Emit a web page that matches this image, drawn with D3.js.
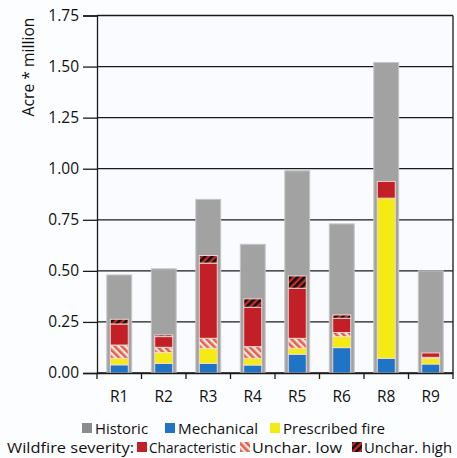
<!DOCTYPE html>
<html><head><meta charset="utf-8">
<script src="https://cdn.jsdelivr.net/npm/d3@7"></script>
<style>
body{margin:0;background:#fcfdff;}
text{font-family:"Open Sans",Lato,sans-serif;fill:#111;}
</style></head>
<body>
<svg id="chart" width="457" height="458"></svg>
<script>
const categories = ["R1","R2","R3","R4","R5","R6","R8","R9"];
const historic   = [0.48,0.51,0.85,0.63,0.99,0.73,1.52,0.50];
const mechanical = [0.040,0.047,0.047,0.039,0.092,0.124,0.072,0.044];
const prescribed = [0.032,0.053,0.074,0.033,0.029,0.054,0.784,0.028];
const uncharLow  = [0.065,0.026,0.049,0.057,0.049,0.020,0.000,0.005];
const characteristic = [0.103,0.052,0.368,0.193,0.245,0.070,0.082,0.021];
const uncharHigh = [0.023,0.008,0.037,0.041,0.060,0.016,0.000,0.000];
const yTicks = [0,0.25,0.5,0.75,1.0,1.25,1.5,1.75];
const yLabel = "Acre * million";

const svg = d3.select("#chart");
const L=97,R=453,T=15.5,B=373;
const FONT = '"Open Sans", Lato, sans-serif';
const x = d3.scaleBand().domain(categories).range([L,R]).paddingInner(0.44).paddingOuter(0.22);
const y = d3.scaleLinear().domain([0,1.75]).range([B,T]);

const defs = svg.append("defs");
const pLow = defs.append("pattern").attr("id","hLow").attr("patternUnits","userSpaceOnUse")
  .attr("width",5).attr("height",5).attr("patternTransform","rotate(-45)");
pLow.append("rect").attr("width",5).attr("height",5).attr("fill","#fbe6df");
pLow.append("rect").attr("width",2.6).attr("height",5).attr("fill","#e2604a");
const pHigh = defs.append("pattern").attr("id","hHigh").attr("patternUnits","userSpaceOnUse")
  .attr("width",5).attr("height",5).attr("patternTransform","rotate(45)");
pHigh.append("rect").attr("width",5).attr("height",5).attr("fill","#c42a26");
pHigh.append("rect").attr("width",2.6).attr("height",5).attr("fill","#111");

// plot bg
svg.append("rect").attr("x",L).attr("y",T).attr("width",R-L).attr("height",B-T).attr("fill","#fafbfe");

// gridlines
svg.append("g").selectAll("line").data(yTicks).join("line")
  .attr("x1",L).attr("x2",R).attr("y1",d=>y(d)).attr("y2",d=>y(d))
  .attr("stroke","#1a1a1a").attr("stroke-width",1.3);
// right border
svg.append("line").attr("x1",R).attr("x2",R).attr("y1",T).attr("y2",B).attr("stroke","#1a1a1a").attr("stroke-width",1.3);

// historic bars
svg.append("g").selectAll("rect").data(categories).join("rect")
  .attr("x",d=>x(d)).attr("width",x.bandwidth())
  .attr("y",(d,i)=>y(historic[i])).attr("height",(d,i)=>B-y(historic[i]))
  .attr("fill","#a2a2a2").attr("stroke","#c4c6c8").attr("stroke-width",1);

// stacked
const series = [
  {vals:mechanical, fill:"#1f74c6"},
  {vals:prescribed, fill:"#f3eb12"},
  {vals:uncharLow, fill:"url(#hLow)"},
  {vals:characteristic, fill:"#c21f26"},
  {vals:uncharHigh, fill:"url(#hHigh)"}
];
const cw = x.bandwidth()*0.72;
const gS = svg.append("g");
categories.forEach((c,i)=>{
  let base=0;
  series.forEach(s=>{
    const v=s.vals[i];
    if(v>0){
      gS.append("rect").attr("x",x(c)+(x.bandwidth()-cw)/2).attr("width",cw)
        .attr("y",y(base+v)).attr("height",y(base)-y(base+v))
        .attr("fill",s.fill).attr("stroke","#f6ddd6").attr("stroke-width",0.9);
    }
    base+=v;
  });
});

// y axis
const ya = svg.append("g").attr("transform",`translate(${L},0)`)
  .call(d3.axisLeft(y).tickValues(yTicks).tickFormat(d3.format(".2f")).tickSize(14).tickPadding(4));
ya.select(".domain").attr("stroke","#1a1a1a").attr("stroke-width",1.3);
ya.selectAll(".tick line").attr("stroke","#1a1a1a").attr("stroke-width",1.3);
ya.selectAll("text").attr("font-size",15.5).attr("fill","#111").attr("font-family",FONT);

// x axis
const xa = svg.append("g").attr("transform",`translate(0,${B})`)
  .call(d3.axisBottom(x).tickSize(0).tickPadding(18));
xa.select(".domain").attr("stroke","#1a1a1a").attr("stroke-width",1.3);
xa.selectAll("text").attr("font-size",15.5).attr("fill","#111").attr("font-family",FONT);
const step = x.step();
svg.append("g").selectAll("line").data(d3.range(categories.length+1)).join("line")
  .attr("x1",d=>L+d*step).attr("x2",d=>L+d*step).attr("y1",B).attr("y2",B+6)
  .attr("stroke","#1a1a1a").attr("stroke-width",1.3);

// y label
svg.append("text").attr("transform","translate(34,67) rotate(-90)")
  .attr("text-anchor","middle").attr("font-size",15.5)
  .attr("textLength",99).attr("lengthAdjust","spacingAndGlyphs").text(yLabel);

// legend
const leg = svg.append("g").attr("font-size",14.5);
const row1=[{x:82,w:53,fill:"#8c8c8c",t:"Historic"},{x:165,w:80,fill:"#1f74c6",t:"Mechanical"},{x:270,w:102,fill:"#f3eb12",t:"Prescribed fire"}];
row1.forEach(d=>{
  leg.append("rect").attr("x",d.x).attr("y",423).attr("width",10).attr("height",10).attr("fill",d.fill);
  leg.append("text").attr("x",d.x+13).attr("y",433.5).attr("textLength",d.w)
    .attr("lengthAdjust","spacingAndGlyphs").text(d.t);
});
leg.append("text").attr("x",7).attr("y",453).attr("textLength",127)
  .attr("lengthAdjust","spacingAndGlyphs").text("Wildfire severity:");
const row2=[{x:137,w:87,fill:"#c21f26",t:"Characteristic"},{x:240,w:90,fill:"url(#hLow)",t:"Unchar. low"},{x:352,w:88,fill:"url(#hHigh)",t:"Unchar. high"}];
row2.forEach(d=>{
  leg.append("rect").attr("x",d.x).attr("y",442).attr("width",10).attr("height",10).attr("fill",d.fill);
  leg.append("text").attr("x",d.x+12).attr("y",453).attr("textLength",d.w)
    .attr("lengthAdjust","spacingAndGlyphs").text(d.t);
});
</script>
</body></html>
